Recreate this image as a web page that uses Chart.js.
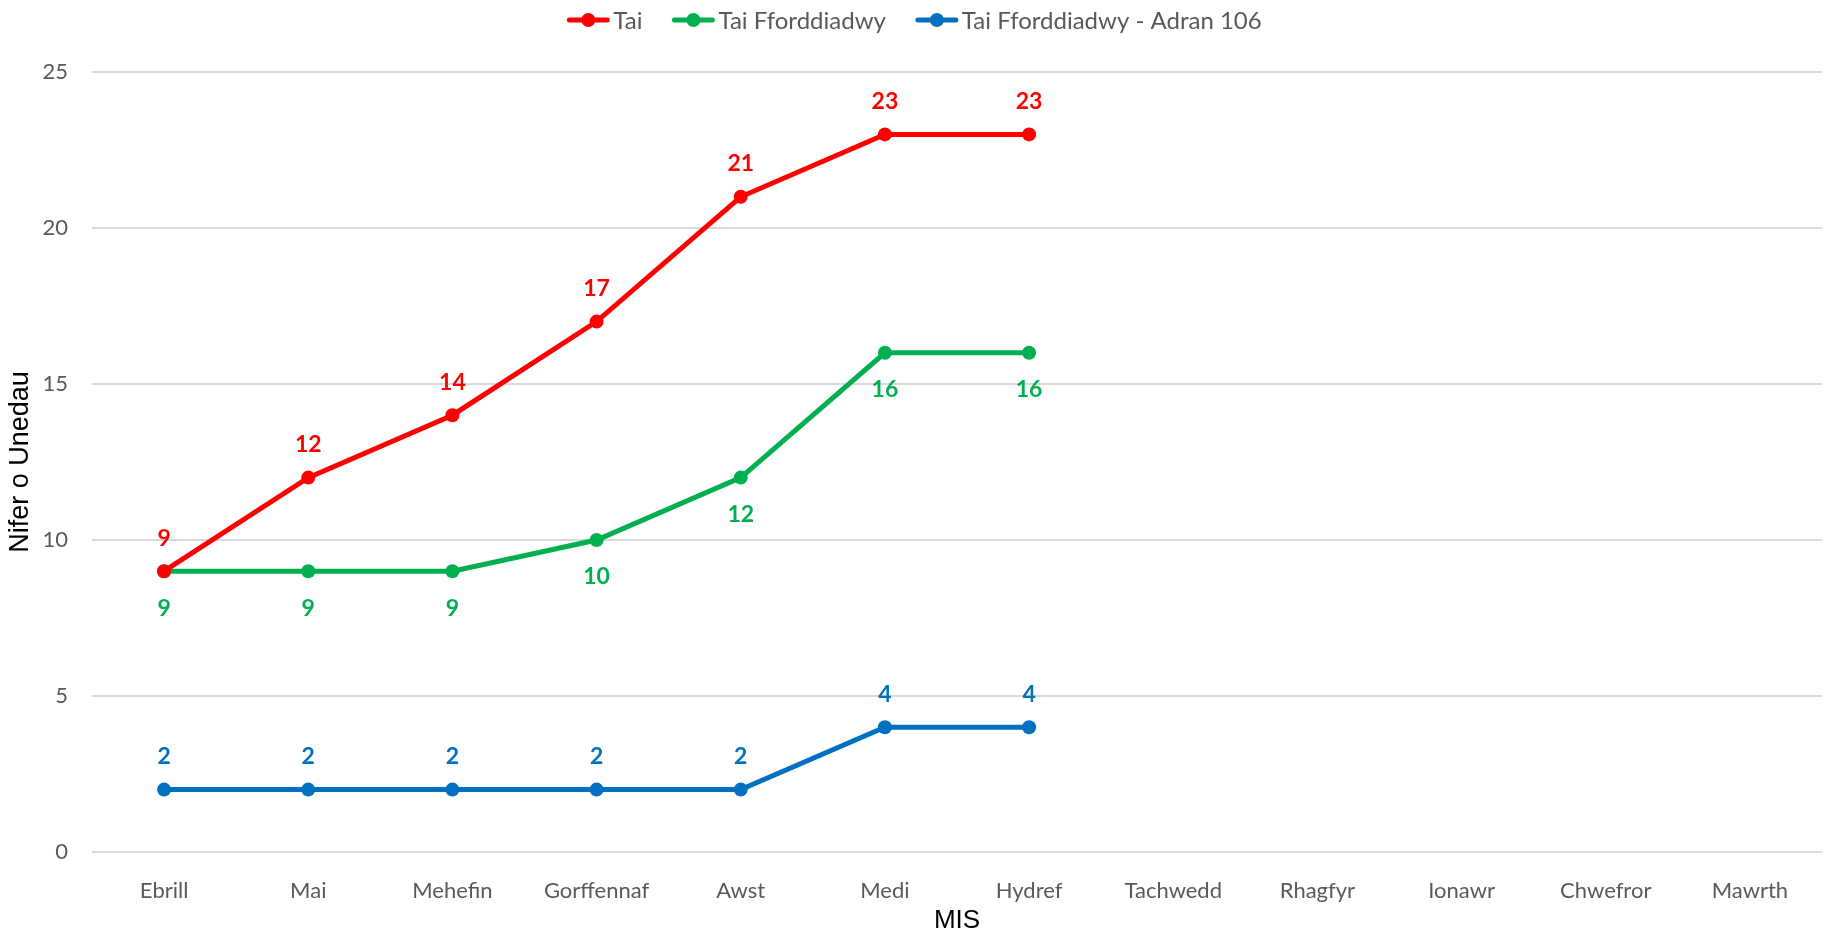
<!DOCTYPE html>
<html>
<head>
<meta charset="utf-8">
<script src="https://cdn.jsdelivr.net/npm/chart.js@4/dist/chart.umd.min.js"></script>
<style>
  html, body { margin: 0; padding: 0; background: #fff; }
  #wrap { width: 1829px; height: 934px; }
</style>
</head>
<body>
<div id="wrap"><canvas id="line-chart"></canvas></div>
<script>
const months = ['Ebrill', 'Mai', 'Mehefin', 'Gorffennaf', 'Awst', 'Medi', 'Hydref',
                'Tachwedd', 'Rhagfyr', 'Ionawr', 'Chwefror', 'Mawrth'];
const tai = [9, 12, 14, 17, 21, 23, 23];
const taiFforddiadwy = [9, 9, 9, 10, 12, 16, 16];
const adran106 = [2, 2, 2, 2, 2, 4, 4];
const yTicks = [0, 5, 10, 15, 20, 25];

const FONT = "Lato, Carlito, Calibri, 'Open Sans', sans-serif";
const TITLE_FONT = "'Liberation Sans', Arial, sans-serif";
const GREY = '#595959';

// value labels drawn next to each point (above or below)
const pointLabels = {
  id: 'pointLabels',
  afterDatasetsDraw(chart) {
    const ctx = chart.ctx;
    ctx.save();
    ctx.font = 'bold 23px ' + FONT;
    ctx.textAlign = 'center';
    ctx.textBaseline = 'middle';
    chart.data.datasets.forEach((ds, i) => {
      const meta = chart.getDatasetMeta(i);
      ctx.fillStyle = ds.borderColor;
      meta.data.forEach((pt, j) => {
        const v = ds.data[j];
        if (v == null) return;
        const dy = ds.labelPos === 'below' ? 37 : -33;
        ctx.fillText(String(v), pt.x, pt.y + dy);
      });
    });
    ctx.restore();
  }
};

// legend like the spreadsheet one: short line with a dot, centred on the canvas
const lineLegend = {
  id: 'lineLegend',
  afterDraw(chart) {
    const ctx = chart.ctx;
    ctx.save();
    ctx.font = '24px ' + FONT;
    ctx.textBaseline = 'middle';
    const mark = 42, gap = 4, between = 30;
    const sets = chart.data.datasets;
    let total = 0;
    sets.forEach((ds, i) => {
      total += mark + gap + ctx.measureText(ds.label).width + (i < sets.length - 1 ? between : 0);
    });
    let x = (chart.width - total) / 2;
    const y = 20;
    sets.forEach(ds => {
      ctx.strokeStyle = ds.borderColor;
      ctx.fillStyle = ds.borderColor;
      ctx.lineWidth = 5;
      ctx.lineCap = 'round';
      ctx.beginPath();
      ctx.moveTo(x + 2, y);
      ctx.lineTo(x + mark - 2, y);
      ctx.stroke();
      ctx.beginPath();
      ctx.arc(x + mark / 2, y, 7, 0, Math.PI * 2);
      ctx.fill();
      ctx.fillStyle = GREY;
      ctx.fillText(ds.label, x + mark + gap, y + 1);
      x += mark + gap + ctx.measureText(ds.label).width + between;
    });
    ctx.restore();
  }
};

function series(label, data, color, labelPos) {
  return {
    label: label,
    data: data,
    borderColor: color,
    backgroundColor: color,
    borderWidth: 5,
    pointRadius: 7,
    pointHoverRadius: 7,
    pointBackgroundColor: color,
    pointBorderWidth: 0,
    tension: 0,
    labelPos: labelPos
  };
}

new Chart(document.getElementById('line-chart'), {
  type: 'line',
  data: {
    labels: months,
    datasets: [
      series('Tai', tai, '#FF0000', 'above'),
      series('Tai Fforddiadwy', taiFforddiadwy, '#00B050', 'below'),
      series('Tai Fforddiadwy - Adran 106', adran106, '#0070C0', 'above')
    ]
  },
  options: {
    responsive: true,
    maintainAspectRatio: false,
    animation: false,
    layout: { padding: { top: 72, right: 1, left: 0, bottom: 0 } },
    plugins: {
      legend: { display: false },
      tooltip: { enabled: false }
    },
    scales: {
      x: {
        offset: true,
        grid: { display: false },
        border: { display: false },
        ticks: { color: GREY, font: { family: FONT, size: 22 }, padding: 18, maxRotation: 0 },
        title: { display: true, text: 'MIS', color: '#000', font: { family: TITLE_FONT, size: 26, lineHeight: 1 },
                 padding: { top: 4, bottom: 0 } },
        afterFit(scale) { scale.height = 82; }
      },
      y: {
        min: 0,
        max: 25,
        afterBuildTicks(scale) { scale.ticks = yTicks.map(v => ({ value: v })); },
        grid: { color: '#d9d9d9', lineWidth: 2, drawTicks: false },
        border: { display: false },
        ticks: { color: GREY, font: { family: FONT, size: 22 }, padding: 24 },
        title: { display: true, text: 'Nifer o Unedau', color: '#000', font: { family: TITLE_FONT, size: 27, lineHeight: 1 },
                 padding: { top: 7, bottom: 8 } },
        afterFit(scale) { scale.width = 92; }
      }
    }
  },
  plugins: [pointLabels, lineLegend]
});
</script>
</body>
</html>
